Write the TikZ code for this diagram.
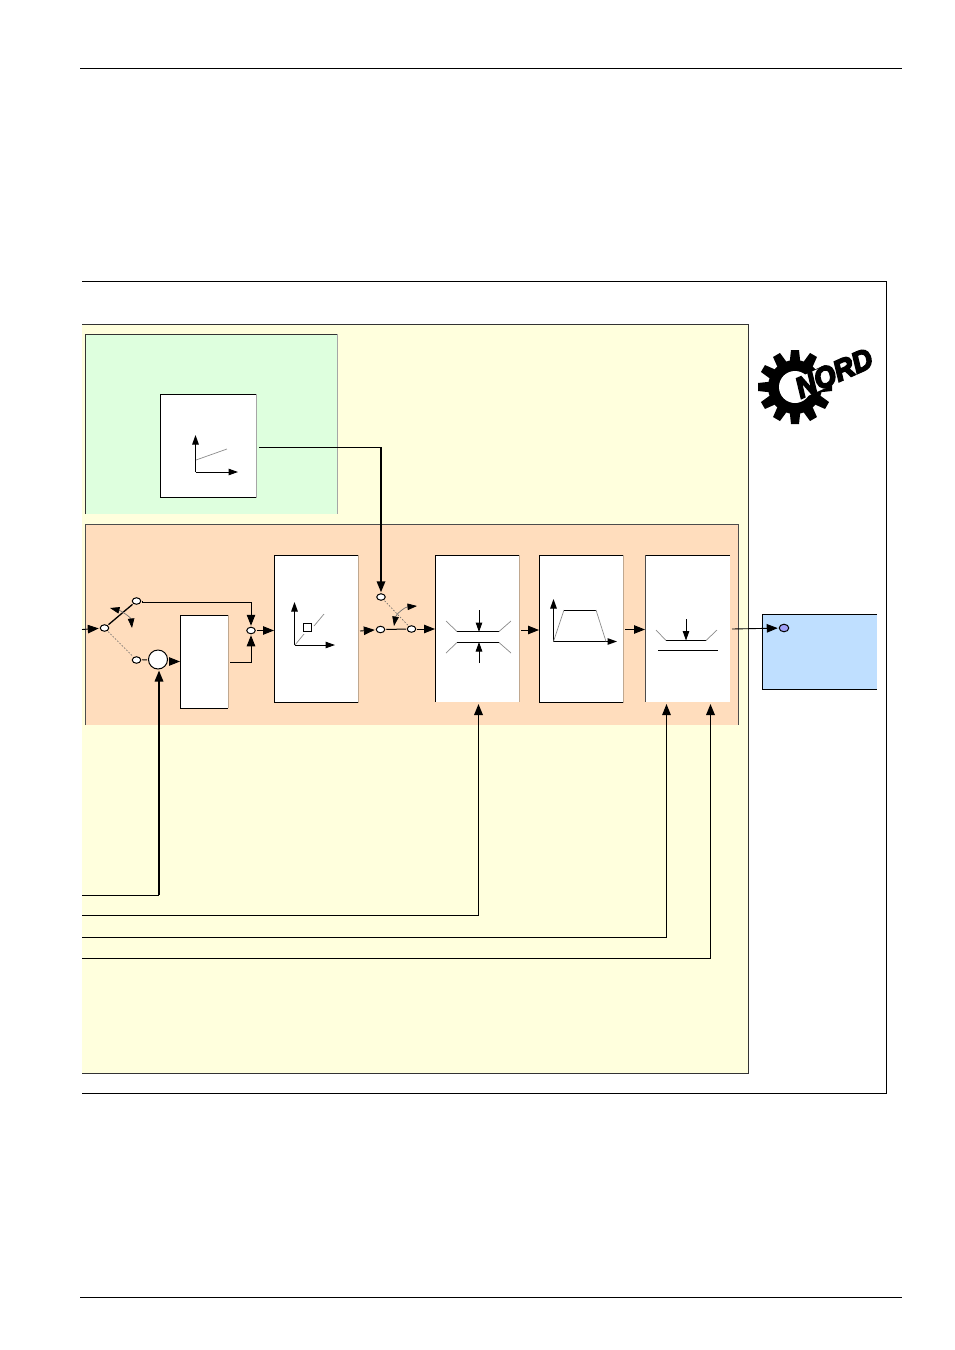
\documentclass[tikz,border=0pt]{standalone}
\usepackage{fontspec}
\setmainfont{Liberation Sans}
\newfontfamily\logofont[FakeStretch=0.95,FakeBold=6,Kerning=Off]{Liberation Sans Bold Italic}
\usetikzlibrary{arrows.meta,shapes.geometric}
\definecolor{panelyellow}{HTML}{FFFFDD}
\definecolor{panelgreen}{HTML}{DEFFDE}
\definecolor{panelorange}{HTML}{FFDDBD}
\definecolor{panelblue}{HTML}{BFDFFF}
\definecolor{dotblue}{HTML}{A0A0F8}
\definecolor{edgetan}{HTML}{C0A890}
\tikzset{
  x=1pt,y=-1pt,
  region/.style={anchor=north west,inner sep=0pt,outer sep=0pt,draw=none},
  whitebox/.style={region,fill=white},
  port/.style={ellipse,draw=black,line width=1pt,fill=white,minimum width=8.5pt,minimum height=6.5pt,inner sep=0pt,outer sep=1.5pt},
  sumnode/.style={circle,draw=black,line width=1pt,fill=white,minimum size=19pt,inner sep=0pt,outer sep=1.5pt},
  edgeline/.style={line width=1pt,black},
  flow/.style={line width=.9pt,black,-{Triangle[length=11pt,width=8.5pt]}},
  ctrlrun/.style={line width=1pt,black},
  ctrl/.style={line width=1.7pt,black,-{Triangle[length=11pt,width=8.5pt]}},
  ctrlthin/.style={line width=1.2pt,black,-{Triangle[length=11pt,width=8.5pt]}},
  axis/.style={line width=1pt,black,-{Triangle[length=9.5pt,width=6.5pt]}},
  greyline/.style={line width=.7pt,black!45},
  dotline/.style={line width=.6pt,black!60,dash pattern=on 1.6pt off 1.6pt},
  blackline/.style={line width=1pt,black},
  bend arrow/.style={line width=.7pt,black!55}
}
\begin{document}
\begin{tikzpicture}
\useasboundingbox (0,0) rectangle (955,1350);
\fill[white] (0,0) rectangle (955,1350);
% page rules
\coordinate (tl) at (80,68.5); \coordinate (tr) at (902,68.5);
\coordinate (bl) at (80,1297.5); \coordinate (br) at (902,1297.5);
\draw[line width=.8pt] (tl)--(tr);
\draw[line width=1.5pt] (bl)--(br);
% outer frame
\node[region,minimum width=804.5pt,minimum height=812.5pt] (frame) at (82,281) {};
\draw[line width=.8pt] (frame.north west)--(frame.north east)--(frame.south east);
\draw[line width=1.6pt] (frame.south east)--(frame.south west);
% yellow panel
\node[region,fill=panelyellow,minimum width=666.5pt,minimum height=749.5pt] (yellow) at (82,324) {};
\draw[line width=.7pt,black!80] (yellow.north west)--(yellow.north east)--(yellow.south east)--(yellow.south west);
% green panel
\node[region,fill=panelgreen,minimum width=252.5pt,minimum height=179.5pt] (green) at (85,334) {};
\draw[line width=.7pt,black!80] (green.south west)--(green.north west)--(green.north east);
\draw[line width=.8pt,black!35] (green.north east)--(green.south east);
% orange panel
\node[region,fill=panelorange,minimum width=653.5pt,minimum height=201pt] (orange) at (85,524) {};
\draw[line width=.7pt,black!70] (orange.south west)--(orange.north west)--(orange.north east)--(orange.south east);
% blue panel
\node[region,fill=panelblue,minimum width=115pt,minimum height=75.5pt] (blue) at (762,614) {};
\draw[edgeline] (blue.north east)--(blue.north west)--(blue.south west)--(blue.south east);
% white boxes
\node[whitebox,minimum width=96.5pt,minimum height=103.5pt] (boxramp) at (160,394) {};
\draw[edgeline] (boxramp.south west)--(boxramp.north west)--(boxramp.north east);
\draw[edgeline] (boxramp.south west)--(boxramp.south east);
\draw[line width=.8pt,black!35] (boxramp.north east)--(boxramp.south east);
\node[whitebox,minimum width=48pt,minimum height=93pt] (boxa) at (180,615) {};
\draw[edgeline] (boxa.south west)--(boxa.north west)--(boxa.north east);
\draw[edgeline] (boxa.south west)--(boxa.south east);
\draw[line width=.8pt,edgetan] (boxa.north east)--(boxa.south east);
\node[whitebox,minimum width=84pt,minimum height=147.5pt] (boxb) at (274,555) {};
\draw[edgeline] (boxb.north east)--(boxb.north west)--(boxb.south west)--(boxb.south east);
\draw[line width=.8pt,edgetan] (boxb.north east)--(boxb.south east);
\node[whitebox,minimum width=84pt,minimum height=147pt] (boxc) at (435,555) {};
\draw[edgeline] (boxc.south west)--(boxc.north west)--(boxc.north east);
\draw[line width=.8pt,edgetan] (boxc.north east)--(boxc.south east);
\node[whitebox,minimum width=84pt,minimum height=147.5pt] (boxd) at (539,555) {};
\draw[edgeline] (boxd.north east)--(boxd.north west)--(boxd.south west)--(boxd.south east);
\draw[line width=.8pt,edgetan] (boxd.north east)--(boxd.south east);
\node[whitebox,minimum width=85pt,minimum height=147pt] (boxe) at (645,555) {};
\draw[edgeline] (boxe.north west)--(boxe.north east);
\draw[line width=.8pt,black!70] (boxe.north west)--(boxe.south west);
% logo
\begin{scope}[shift={(795,387)}]
  \fill[black] (0,0) circle (27);
  \foreach \a in {0,30,...,330}{
    \fill[black,rotate=\a] (-5.5,-23) -- (-4,-37) -- (4,-37) -- (5.5,-23) -- cycle;
  }
  \fill[white] (0,0) circle (16);
\end{scope}
\node[fill=white,rounded corners=3pt,rotate=24,inner xsep=2pt,inner ysep=0pt,font=\logofont\fontsize{29}{29}\selectfont,text=black] (logo) at (834,373) {NORD};
% ports
\node[port] (in) at (104.5,628) {};
\node[port] (up) at (136.5,601) {};
\node[port] (down) at (136.5,660) {};
\node[sumnode] (sum) at (158,659.5) {};
\node[port] (join) at (251,630.5) {};
\node[port] (sa) at (381,597) {};
\node[port] (sb) at (380.5,629.5) {};
\node[port] (sc) at (411.5,629) {};
\node[port,fill=dotblue,minimum width=9.5pt,minimum height=7.5pt] (outdot) at (784,628) {};
% free ends
\coordinate (inL) at (82,629.5);
\coordinate (c1) at (82,895); \coordinate (c2) at (82,915.5); \coordinate (c3) at (82,937); \coordinate (c4) at (82,958.5);
\coordinate (k1) at (159,895); \coordinate (k2) at (478.5,915.5); \coordinate (k3) at (666.5,937); \coordinate (k4) at (710.5,958.5);
\coordinate (k5) at (381,447); \coordinate (rampout) at (259,447);
\coordinate (e1) at (159,670.5); \coordinate (e2) at (478.5,704); \coordinate (e3) at (666.5,704); \coordinate (e4) at (710.5,704);
% switches
\draw[line width=1.3pt] (in)--(up);
\draw[dotline] (in)--(down);
\draw[dotline] (sa)--(sc);
\draw[line width=1pt] (sb)--(sc);
\draw[blackline] (down)--(sum);
\draw[bend arrow,{Triangle[length=9.5pt,width=6.5pt,black]}-{Triangle[length=9.5pt,width=6.5pt,black]}] (110,608) .. controls (122,611) and (131,618) .. (132,628);
\draw[bend arrow,{Triangle[length=9.5pt,width=6.5pt,black]}-{Triangle[length=9.5pt,width=6.5pt,black]}] (417,606) .. controls (405,607) and (396,614) .. (394,626);
% flow
\draw[flow] (inL)--(in);
\draw[flow] (up.east) -- ++(0,1) -| (join.north);
\draw[flow] (boxa.east |- 0,662) ++(2,0) -| (join.south);
\draw[flow] (sum.east |- 0,661.5) -- (boxa.west |- 0,661.5);
\draw[flow] (join)--(boxb.west |- join);
\draw[flow] (358,631) ++(2,0) -- (sb);
\draw[flow] (sc)--(boxc.west |- sc);
\draw[flow] (521,630)--(boxd.west |- 0,630);
\draw[flow] (625,629.5)--(boxe.west |- 0,629.5);
\draw[flow] (732,629)--(outdot);
% control
\draw[ctrlrun] (c1)--(k1); \draw[ctrl] (k1)--(e1);
\draw[ctrlrun] (c2)--(k2); \draw[ctrl] (k2)--(e2);
\draw[ctrlrun] (c3)--(k3); \draw[ctrlthin] (k3)--(e3);
\draw[ctrlrun] (c4)--(k4); \draw[ctrl] (k4)--(e4);
\draw[ctrlrun] (rampout)--(k5); \draw[ctrl] (k5)--(sa);
% icon ramp
\draw[axis] (195.5,472)--(195.5,435);
\draw[axis] (195.5,472)--(238,472);
\draw[greyline] (196,460)--(227,449);
% icon B
\draw[axis] (294.5,645)--(294.5,602);
\draw[axis] (294.5,645)--(335,645);
\draw[greyline] (295,645)--(304,634);
\draw[greyline] (314,626)--(324,614);
\draw[line width=.8pt] (303.5,623) rectangle (311.5,631);
% icon C
\draw[blackline] (457,631.5)--(499,631.5);
\draw[blackline] (457,642.5)--(499,642.5);
\draw[greyline] (457,631.5)--(446,621);
\draw[greyline] (499,631.5)--(511,621);
\draw[greyline] (457,642.5)--(446,653);
\draw[greyline] (499,642.5)--(511,653);
\draw[axis] (479,610)--(479,632);
\draw[axis] (479,663)--(479,642);
% icon D
\draw[axis] (553.5,641.5)--(553.5,599);
\draw[axis] (553.5,641.5)--(617,641.5);
\draw[greyline] (553.5,641.5)--(564,610);
\draw[blackline] (564,610.5)--(596,610.5);
\draw[greyline] (596,610)--(606,641.5);
% icon E
\draw[blackline] (666,640.5)--(706,640.5);
\draw[greyline] (666,640.5)--(656,630);
\draw[greyline] (706,640.5)--(717,630);
\draw[blackline] (658,650.5)--(718,650.5);
\draw[axis] (686,619)--(686,640.5);
\end{tikzpicture}
\end{document}
